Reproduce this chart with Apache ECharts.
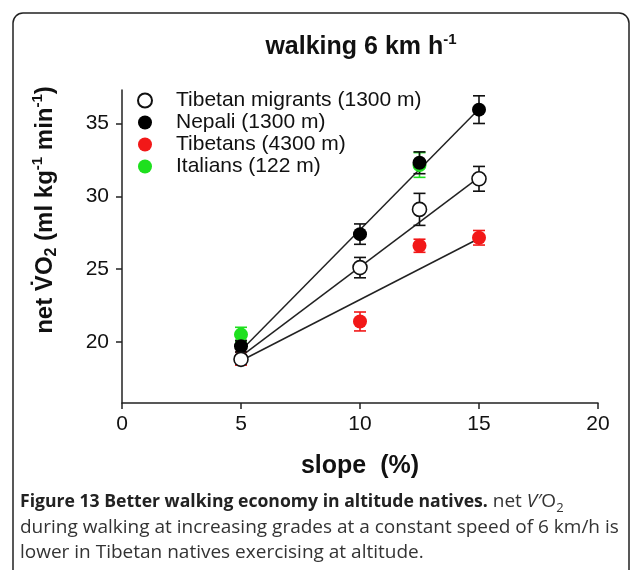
<!DOCTYPE html>
<html>
<head>
<meta charset="utf-8">
<script src="https://cdn.jsdelivr.net/npm/echarts@6/dist/echarts.min.js"></script>
<style>
  html, body { margin: 0; padding: 0; background: #fff; }
  #main { width: 633px; height: 570px; }
</style>
</head>
<body>
<div id="main"></div>
<script>
// values
var slopes = [5, 10, 12.5, 15];
var migrantsMean = [18.8, 25.1, 29.1, 31.2];
var migrantsSem = [0.3, 0.7, 1.1, 0.85];
var nepaliMean = [19.7, 27.4, 32.3, 35.95];
var nepaliSem = [0.4, 0.7, 0.75, 0.95];
var tibetansMean = [18.85, 21.4, 26.6, 27.15];
var tibetansSem = [0.45, 0.65, 0.45, 0.5];
var italianSlopes = [5, 12.5];
var italiansMean = [20.5, 32.15];
var italiansSem = [0.5, 0.85];

// regression lines, end points
var fitSlopes = [5, 15];
var fitNepali = [19.4, 36.0];
var fitMigrants = [19.0, 31.3];
var fitTibetans = [18.7, 27.1];

var xTicks = [0, 5, 10, 15, 20];
var yTicks = [20, 25, 30, 35];

var names = ['Tibetan migrants (1300 m)', 'Nepali (1300 m)', 'Tibetans (4300 m)', 'Italians (122 m)'];

var FONT = '"Liberation Sans", Arial, sans-serif';
var CAP = '"Open Sans", sans-serif';

var pairs = function(xs, ys) {
    return xs.map(function(x, i) { return [x, ys[i]]; });
};

var fitLine = function(ys) {
    return {
        type: 'line',
        data: pairs(fitSlopes, ys),
        symbol: 'none',
        silent: true,
        lineStyle: {color: '#222', width: 1.5},
        z: 1
    };
};

var errBars = function(xs, means, sems, color) {
    return {
        type: 'custom',
        silent: true,
        data: xs.map(function(x, i) { return [x, means[i], sems[i]]; }),
        encode: {x: 0, y: 1},
        renderItem: function(params, api) {
            var x = api.value(0), m = api.value(1), e = api.value(2);
            var top = api.coord([x, m + e]);
            var bot = api.coord([x, m - e]);
            var w = 6;
            var st = {stroke: color, lineWidth: 1.6};
            return {
                type: 'group',
                children: [
                    {type: 'line', shape: {x1: top[0], y1: top[1], x2: bot[0], y2: bot[1]}, style: st},
                    {type: 'line', shape: {x1: top[0] - w, y1: top[1], x2: top[0] + w, y2: top[1]}, style: st},
                    {type: 'line', shape: {x1: bot[0] - w, y1: bot[1], x2: bot[0] + w, y2: bot[1]}, style: st}
                ]
            };
        },
        z: 2
    };
};

var dots = function(name, xs, means, style) {
    style.opacity = 1;
    return {
        type: 'scatter',
        name: name,
        data: pairs(xs, means),
        symbol: 'circle',
        symbolSize: 14,
        itemStyle: style,
        z: 3
    };
};

var chart = echarts.init(document.getElementById('main'));

var option = {
    animation: false,
    grid: {left: 122, right: 35, top: 90, bottom: 167},
    legend: {
        data: names,
        orient: 'vertical',
        left: 132,
        top: 85,
        itemWidth: 14,
        itemHeight: 14,
        itemGap: 1,
        selectedMode: false,
        textStyle: {fontFamily: FONT, fontSize: 21, color: '#111', lineHeight: 21, padding: [0, 0, 0, 19]}
    },
    xAxis: {
        type: 'value',
        min: 0,
        max: 20,
        interval: 5,
        name: 'slope  (%)',
        nameLocation: 'middle',
        nameGap: 51,
        nameTextStyle: {fontFamily: FONT, fontSize: 25, fontWeight: 'bold', color: '#111'},
        axisLine: {lineStyle: {color: '#222', width: 1.5}},
        axisTick: {length: 6, lineStyle: {color: '#222', width: 1.5}},
        axisLabel: {fontFamily: FONT, fontSize: 21, color: '#111', margin: 11,
            customValues: xTicks},
        splitLine: {show: false}
    },
    yAxis: {
        type: 'value',
        min: 15.8,
        max: 37.3,
        axisLine: {show: true, lineStyle: {color: '#222', width: 1.5}},
        axisTick: {show: true, length: 6, customValues: yTicks, lineStyle: {color: '#222', width: 1.5}},
        axisLabel: {fontFamily: FONT, fontSize: 21, color: '#111', margin: 13, customValues: yTicks},
        splitLine: {show: false}
    },
    graphic: [
        {
            type: 'rect',
            shape: {x: 13, y: 13, width: 616, height: 600, r: [10, 10, 0, 0]},
            style: {fill: 'none', stroke: '#222', lineWidth: 1.5},
            silent: true
        },
        {
            type: 'text',
            x: 361,
            y: 46,
            style: {
                text: '{b|walking 6 km h}{sup|-1}',
                align: 'center',
                verticalAlign: 'middle',
                rich: {
                    b: {fontFamily: FONT, fontSize: 25, fontWeight: 'bold', fill: '#111', lineHeight: 28, verticalAlign: 'bottom'},
                    sup: {fontFamily: FONT, fontSize: 15, fontWeight: 'bold', fill: '#111', lineHeight: 28, verticalAlign: 'top'}
                }
            }
        },
        {
            type: 'text',
            x: 45,
            y: 210,
            rotation: Math.PI / 2,
            style: {
                text: '{b|net V\u0307O}{sub|2}{b| (ml kg}{sup|-1}{b| min}{sup|-1}{b|)}',
                align: 'center',
                verticalAlign: 'middle',
                rich: {
                    b: {fontFamily: FONT, fontSize: 24, fontWeight: 'bold', fill: '#111', lineHeight: 30},
                    sub: {fontFamily: FONT, fontSize: 16, fontWeight: 'bold', fill: '#111', lineHeight: 30, verticalAlign: 'bottom'},
                    sup: {fontFamily: FONT, fontSize: 15, fontWeight: 'bold', fill: '#111', lineHeight: 30, verticalAlign: 'top'}
                }
            }
        },
        {
            type: 'text',
            x: 20,
            y: 489,
            style: {
                text: '{b|Figure 13 Better walking economy in altitude natives.}{n| net }{i|V\u2032}{n|O}{sub|2}\n' +
                    '{n|during walking at increasing grades at a constant speed of 6 km/h is}\n' +
                    '{n|lower in Tibetan natives exercising at altitude.}',
                rich: {
                    b: {fontFamily: CAP, fontSize: 17.6, fontWeight: 'bold', fill: '#222', lineHeight: 25.5},
                    n: {fontFamily: CAP, fontSize: 19, fill: '#333', lineHeight: 25.5},
                    i: {fontFamily: CAP, fontSize: 19, fontStyle: 'italic', fill: '#333', lineHeight: 25.5},
                    sub: {fontFamily: CAP, fontSize: 13, fill: '#333', lineHeight: 21, verticalAlign: 'bottom'}
                }
            }
        }
    ],
    series: [
        fitLine(fitNepali),
        fitLine(fitMigrants),
        fitLine(fitTibetans),
        errBars(italianSlopes, italiansMean, italiansSem, '#1ee01e'),
        dots(names[3], italianSlopes, italiansMean, {color: '#1ee01e'}),
        errBars(slopes, tibetansMean, tibetansSem, '#f21818'),
        dots(names[2], slopes, tibetansMean, {color: '#f21818'}),
        errBars(slopes, nepaliMean, nepaliSem, '#111'),
        dots(names[1], slopes, nepaliMean, {color: '#000'}),
        errBars(slopes, migrantsMean, migrantsSem, '#111'),
        dots(names[0], slopes, migrantsMean, {color: '#fff', borderColor: '#111', borderWidth: 1.6})
    ]
};

chart.setOption(option);
</script>
</body>
</html>
